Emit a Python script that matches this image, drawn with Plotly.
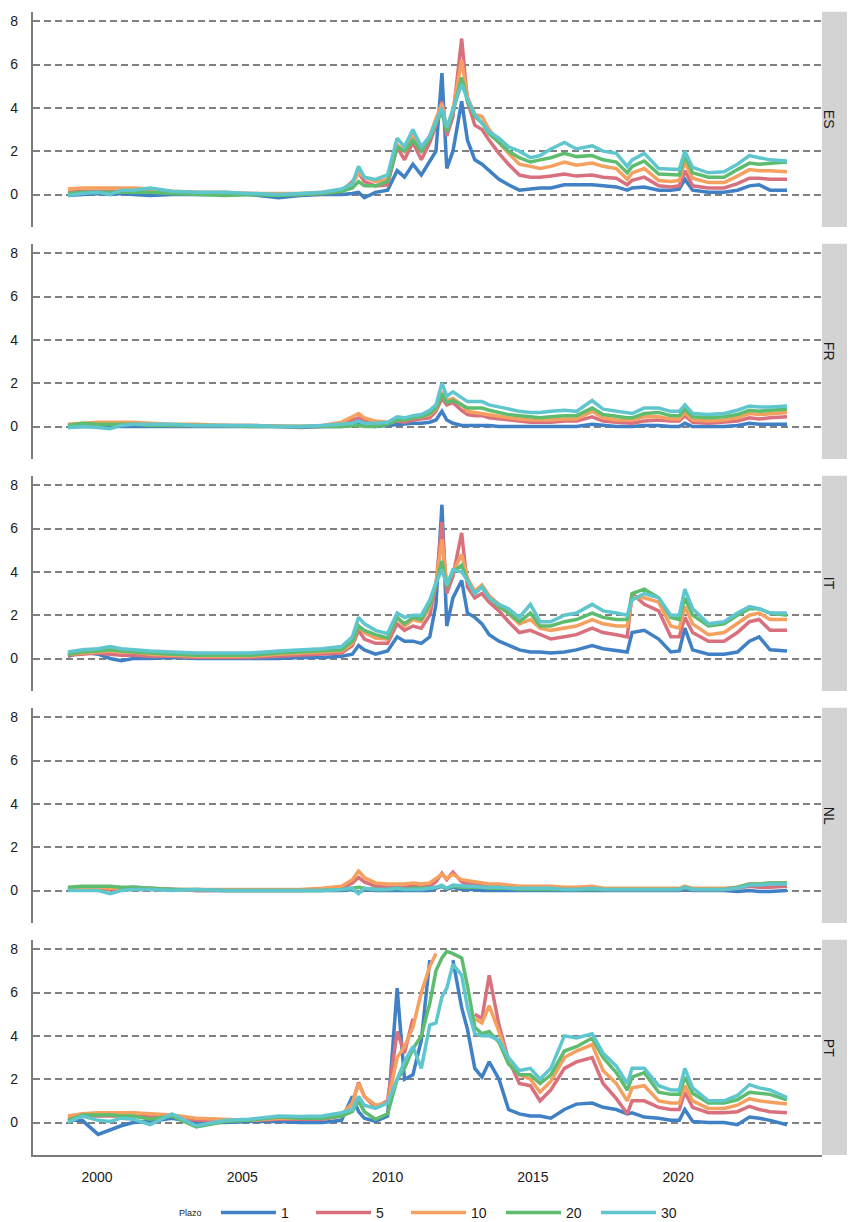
import plotly.graph_objects as go
from plotly.subplots import make_subplots

# Fechas comunes (muestreo aproximado de las series diarias)
dates = [
    "1999-01-01", "1999-07-01", "2000-01-15", "2000-06-15", "2000-11-01",
    "2001-04-01", "2001-11-01", "2002-08-01", "2003-06-01", "2004-06-01",
    "2005-04-01", "2006-04-01", "2007-01-01", "2007-10-01", "2008-06-01",
    "2008-10-15", "2009-01-01", "2009-03-15", "2009-08-01", "2010-01-01",
    "2010-05-01", "2010-08-01", "2010-11-15", "2011-03-01", "2011-06-15",
    "2011-09-01", "2011-11-15", "2012-01-15", "2012-04-01", "2012-07-20",
    "2012-10-01", "2013-01-01", "2013-04-01", "2013-07-01", "2013-11-01",
    "2014-03-01", "2014-07-15", "2014-12-01", "2015-04-01", "2015-08-15",
    "2016-02-01", "2016-07-01", "2017-01-15", "2017-06-01", "2017-11-15",
    "2018-04-01", "2018-06-01", "2018-11-01", "2019-05-01", "2019-10-01",
    "2020-01-15", "2020-03-25", "2020-07-01", "2021-01-15", "2021-08-01",
    "2022-01-15", "2022-06-15", "2022-10-15", "2023-03-01", "2023-09-30",
]

countries = ["ES", "FR", "IT", "NL", "PT"]
plazos = ["1", "5", "10", "20", "30"]

# ES
es_1 = [-0.05, 0.0, 0.05, 0.0, 0.05, 0.0, -0.05, 0.0, 0.0, 0.0,
        0.0, -0.15, -0.05, 0.0, 0.0, 0.05, 0.1, -0.15, 0.1, 0.2,
        1.1, 0.8, 1.4, 0.9, 1.5, 2.0, 5.6, 1.2, 2.0, 4.3,
        2.5, 1.6, 1.4, 1.1, 0.7, 0.45, 0.2, 0.25, 0.3, 0.3,
        0.45, 0.45, 0.45, 0.4, 0.35, 0.2, 0.3, 0.35, 0.2, 0.2,
        0.25, 0.7, 0.2, 0.1, 0.1, 0.2, 0.4, 0.45, 0.2, 0.2]
es_5 = [0.1, 0.15, 0.15, 0.15, 0.15, 0.15, 0.1, 0.1, 0.05, 0.05,
        0.05, 0.0, 0.0, 0.05, 0.15, 0.6, 1.0, 0.6, 0.4, 0.45,
        2.2, 1.6, 2.4, 1.6, 2.4, 3.2, 4.3, 2.7, 3.6, 7.2,
        4.3, 3.2, 3.0, 2.5, 1.9, 1.4, 0.9, 0.8, 0.8, 0.85,
        0.95, 0.85, 0.9, 0.8, 0.75, 0.45, 0.65, 0.8, 0.4, 0.35,
        0.4, 1.1, 0.4, 0.3, 0.3, 0.5, 0.75, 0.75, 0.7, 0.7]
es_10 = [0.25, 0.3, 0.3, 0.3, 0.3, 0.3, 0.25, 0.15, 0.1, 0.1,
         0.05, 0.05, 0.05, 0.1, 0.2, 0.5, 1.0, 0.8, 0.6, 0.7,
         2.3, 2.0, 2.8, 2.0, 2.7, 3.5, 4.2, 3.0, 3.9, 6.2,
         4.5, 3.7, 3.6, 3.0, 2.4, 1.9, 1.4, 1.3, 1.2, 1.3,
         1.5, 1.35, 1.45, 1.3, 1.2, 0.7, 1.0, 1.2, 0.65, 0.6,
         0.65, 1.5, 0.75, 0.55, 0.55, 0.85, 1.15, 1.1, 1.1, 1.05]
es_20 = [0.05, 0.1, 0.1, 0.1, 0.1, 0.1, 0.1, 0.05, 0.0, -0.05,
         0.0, -0.05, 0.0, 0.05, 0.15, 0.3, 0.6, 0.4, 0.4, 0.6,
         2.2, 2.0, 2.5, 2.0, 2.6, 3.3, 3.8, 2.9, 3.8, 5.4,
         4.3, 3.6, 3.3, 2.8, 2.4, 2.0, 1.7, 1.5, 1.6, 1.7,
         1.9, 1.75, 1.8, 1.6, 1.5, 1.0, 1.3, 1.55, 0.95, 0.9,
         0.9, 1.8, 1.0, 0.8, 0.8, 1.15, 1.45, 1.4, 1.45, 1.5]
es_30 = [-0.05, 0.05, 0.1, 0.0, 0.2, 0.2, 0.3, 0.15, 0.1, 0.1,
         0.05, 0.0, 0.05, 0.1, 0.25, 0.5, 1.3, 0.8, 0.7, 0.9,
         2.6, 2.2, 3.0, 2.2, 2.7, 3.4, 4.0, 3.1, 3.9, 5.1,
         4.4, 3.7, 3.3, 2.9, 2.6, 2.2, 2.0, 1.7, 1.8, 2.1,
         2.4, 2.1, 2.25, 2.0, 1.9, 1.3, 1.6, 1.9, 1.2, 1.15,
         1.15, 2.0, 1.25, 1.0, 1.05, 1.4, 1.8, 1.7, 1.6, 1.55]

# FR
fr_1 = [-0.05, 0.0, 0.0, 0.0, 0.0, 0.0, 0.0, 0.0, 0.0, 0.0,
        0.0, 0.0, -0.05, 0.0, 0.0, 0.05, 0.15, 0.05, 0.0, 0.05,
        0.1, 0.1, 0.15, 0.15, 0.2, 0.3, 0.7, 0.3, 0.15, 0.05,
        0.05, 0.05, 0.05, 0.05, 0.0, 0.0, 0.0, 0.0, 0.0, 0.0,
        0.0, 0.0, 0.1, 0.05, 0.0, 0.0, 0.0, 0.05, 0.05, 0.0,
        0.0, 0.15, 0.0, 0.0, 0.0, 0.05, 0.15, 0.1, 0.1, 0.1]
fr_5 = [0.05, 0.1, 0.1, 0.1, 0.1, 0.1, 0.1, 0.05, 0.05, 0.05,
        0.05, 0.0, 0.0, 0.0, 0.1, 0.3, 0.4, 0.25, 0.2, 0.15,
        0.25, 0.2, 0.3, 0.35, 0.4, 0.7, 1.3, 1.0, 1.1, 0.75,
        0.55, 0.5, 0.5, 0.4, 0.35, 0.3, 0.25, 0.2, 0.2, 0.2,
        0.25, 0.25, 0.45, 0.25, 0.2, 0.15, 0.15, 0.25, 0.3, 0.25,
        0.25, 0.5, 0.2, 0.15, 0.2, 0.25, 0.4, 0.35, 0.4, 0.45]
fr_10 = [0.1, 0.15, 0.2, 0.2, 0.2, 0.2, 0.15, 0.1, 0.1, 0.05,
         0.05, 0.0, 0.0, 0.05, 0.2, 0.45, 0.6, 0.4, 0.25, 0.2,
         0.3, 0.3, 0.4, 0.45, 0.55, 0.8, 1.6, 1.2, 1.3, 1.0,
         0.7, 0.65, 0.6, 0.55, 0.45, 0.4, 0.35, 0.3, 0.3, 0.3,
         0.35, 0.35, 0.7, 0.4, 0.3, 0.3, 0.3, 0.45, 0.45, 0.35,
         0.35, 0.65, 0.3, 0.25, 0.3, 0.4, 0.6, 0.55, 0.6, 0.65]
fr_20 = [0.05, 0.15, 0.1, 0.1, 0.1, 0.1, 0.05, 0.05, 0.05, 0.05,
         0.0, 0.0, 0.0, 0.0, 0.0, 0.05, 0.05, 0.0, 0.0, 0.1,
         0.3, 0.3, 0.4, 0.45, 0.6, 0.85, 1.5, 1.1, 1.2, 1.0,
         0.85, 0.85, 0.85, 0.75, 0.65, 0.55, 0.5, 0.45, 0.4, 0.45,
         0.5, 0.5, 0.85, 0.55, 0.45, 0.4, 0.4, 0.6, 0.65, 0.5,
         0.5, 0.8, 0.45, 0.4, 0.45, 0.55, 0.75, 0.7, 0.75, 0.8]
fr_30 = [-0.05, 0.0, -0.05, -0.1, 0.05, 0.1, 0.1, 0.1, 0.05, 0.05,
         0.05, 0.0, 0.0, 0.05, 0.1, 0.15, 0.25, 0.15, 0.15, 0.2,
         0.45, 0.4, 0.5, 0.55, 0.75, 1.0, 2.0, 1.4, 1.6, 1.3,
         1.15, 1.15, 1.15, 1.0, 0.9, 0.8, 0.7, 0.65, 0.65, 0.7,
         0.75, 0.7, 1.2, 0.8, 0.7, 0.6, 0.6, 0.85, 0.85, 0.7,
         0.7, 1.0, 0.6, 0.55, 0.6, 0.75, 0.95, 0.9, 0.9, 0.95]

# IT
it_1 = [0.1, 0.3, 0.2, 0.0, -0.1, 0.0, 0.0, 0.05, 0.0, 0.0,
        0.0, 0.0, 0.05, 0.05, 0.1, 0.2, 0.6, 0.4, 0.2, 0.35,
        1.0, 0.8, 0.8, 0.7, 1.0, 2.5, 7.1, 1.5, 2.8, 3.6,
        2.1, 1.9, 1.6, 1.1, 0.8, 0.6, 0.4, 0.3, 0.3, 0.25,
        0.3, 0.4, 0.6, 0.45, 0.35, 0.3, 1.2, 1.3, 0.9, 0.3,
        0.35, 1.4, 0.4, 0.2, 0.2, 0.3, 0.8, 1.0, 0.4, 0.35]
it_5 = [0.15, 0.2, 0.25, 0.2, 0.15, 0.15, 0.1, 0.1, 0.05, 0.05,
        0.05, 0.1, 0.15, 0.2, 0.25, 0.6, 1.3, 0.9, 0.7, 0.7,
        1.6, 1.3, 1.5, 1.4, 2.0, 3.4, 6.3, 3.0, 3.8, 5.8,
        3.3, 2.8, 3.0, 2.6, 2.2, 1.7, 1.2, 1.3, 1.1, 0.9,
        1.0, 1.1, 1.4, 1.2, 1.1, 1.0, 3.0, 2.5, 2.2, 1.0,
        1.0, 1.9, 1.2, 0.8, 0.8, 1.2, 1.7, 1.8, 1.3, 1.3]
it_10 = [0.2, 0.25, 0.3, 0.35, 0.3, 0.3, 0.2, 0.15, 0.1, 0.1,
         0.1, 0.2, 0.25, 0.3, 0.35, 0.7, 1.5, 1.2, 0.95, 0.9,
         1.9, 1.5, 1.8, 1.7, 2.4, 3.5, 5.5, 3.4, 4.0, 4.8,
         3.7, 3.1, 3.4, 2.9, 2.5, 2.1, 1.6, 1.8, 1.4, 1.3,
         1.4, 1.5, 1.8, 1.6, 1.5, 1.5, 2.8, 2.8, 2.6, 1.5,
         1.4, 2.4, 1.6, 1.1, 1.2, 1.6, 2.0, 2.1, 1.8, 1.8]
it_20 = [0.2, 0.3, 0.35, 0.4, 0.35, 0.3, 0.25, 0.2, 0.15, 0.15,
         0.15, 0.25, 0.3, 0.35, 0.4, 0.8, 1.5, 1.3, 1.1, 0.95,
         1.9, 1.6, 1.9, 1.8, 2.5, 3.4, 4.5, 3.3, 4.0, 4.3,
         3.6, 3.0, 3.3, 2.8, 2.4, 2.1, 1.7, 2.1, 1.5, 1.5,
         1.7, 1.8, 2.1, 1.9, 1.8, 1.8, 3.0, 3.2, 2.8, 1.9,
         1.8, 2.8, 2.0, 1.5, 1.6, 2.0, 2.3, 2.3, 2.1, 2.0]
it_30 = [0.3, 0.4, 0.45, 0.55, 0.45, 0.4, 0.35, 0.3, 0.25, 0.25,
         0.25, 0.35, 0.4, 0.45, 0.55, 1.0, 1.9, 1.6, 1.3, 1.15,
         2.1, 1.9, 2.0, 2.0, 2.7, 3.5, 4.1, 3.4, 4.1, 4.0,
         3.6, 3.0, 3.3, 2.8, 2.5, 2.3, 1.9, 2.5, 1.7, 1.7,
         2.0, 2.1, 2.5, 2.2, 2.1, 2.0, 2.7, 3.0, 2.8, 2.0,
         2.0, 3.2, 2.3, 1.6, 1.7, 2.1, 2.4, 2.3, 2.1, 2.1]

# NL
nl_1 = [0.05, 0.1, 0.1, 0.05, 0.1, 0.15, 0.1, 0.05, 0.0, 0.0,
        0.0, 0.0, 0.0, 0.0, 0.0, 0.05, -0.1, 0.05, 0.0, 0.0,
        0.0, 0.0, 0.0, 0.0, 0.0, 0.1, 0.2, 0.05, 0.15, 0.05,
        0.05, 0.05, 0.0, 0.0, 0.0, 0.0, 0.0, 0.0, 0.0, 0.0,
        0.0, 0.0, 0.0, 0.0, 0.0, 0.0, 0.0, 0.0, 0.0, 0.0,
        0.0, 0.05, 0.0, 0.0, 0.0, -0.05, 0.0, -0.05, -0.05, 0.0]
nl_5 = [0.05, 0.1, 0.05, 0.05, 0.05, 0.05, 0.05, 0.05, 0.0, 0.0,
        0.0, 0.0, 0.0, 0.05, 0.1, 0.35, 0.6, 0.4, 0.2, 0.15,
        0.15, 0.15, 0.2, 0.15, 0.2, 0.4, 0.8, 0.5, 0.85, 0.4,
        0.3, 0.3, 0.25, 0.2, 0.2, 0.15, 0.1, 0.1, 0.1, 0.1,
        0.1, 0.1, 0.1, 0.05, 0.05, 0.05, 0.05, 0.05, 0.05, 0.05,
        0.05, 0.15, 0.05, 0.05, 0.05, 0.1, 0.2, 0.15, 0.15, 0.2]
nl_10 = [0.1, 0.15, 0.15, 0.1, 0.1, 0.1, 0.1, 0.05, 0.05, 0.05,
         0.05, 0.05, 0.05, 0.1, 0.2, 0.5, 0.9, 0.6, 0.35, 0.3,
         0.3, 0.3, 0.35, 0.3, 0.35, 0.55, 0.75, 0.55, 0.75, 0.5,
         0.45, 0.4, 0.35, 0.3, 0.3, 0.25, 0.2, 0.2, 0.2, 0.2,
         0.15, 0.15, 0.2, 0.1, 0.1, 0.1, 0.1, 0.1, 0.1, 0.1,
         0.1, 0.2, 0.1, 0.1, 0.1, 0.15, 0.3, 0.3, 0.35, 0.35]
nl_20 = [0.15, 0.2, 0.2, 0.2, 0.15, 0.15, 0.1, 0.05, 0.05, 0.0,
         0.0, 0.0, 0.0, 0.0, 0.05, 0.1, 0.15, 0.1, 0.05, 0.05,
         0.1, 0.05, 0.1, 0.1, 0.1, 0.15, 0.2, 0.1, 0.2, 0.15,
         0.15, 0.15, 0.15, 0.1, 0.1, 0.1, 0.05, 0.05, 0.05, 0.05,
         0.05, 0.05, 0.05, 0.05, 0.05, 0.05, 0.05, 0.05, 0.05, 0.05,
         0.05, 0.15, 0.05, 0.05, 0.05, 0.15, 0.3, 0.3, 0.35, 0.35]
nl_30 = [0.0, 0.0, 0.0, -0.15, 0.0, 0.05, 0.05, 0.0, 0.05, 0.0,
         0.0, 0.0, 0.0, 0.0, 0.05, 0.1, -0.15, 0.1, 0.05, 0.05,
         0.1, 0.05, 0.05, 0.05, 0.1, 0.15, 0.25, 0.1, 0.25, 0.2,
         0.2, 0.2, 0.15, 0.15, 0.15, 0.1, 0.1, 0.1, 0.1, 0.1,
         0.05, 0.05, 0.1, 0.05, 0.05, 0.05, 0.05, 0.05, 0.05, 0.05,
         0.05, 0.15, 0.05, 0.05, 0.05, 0.1, 0.25, 0.25, 0.3, 0.3]

# PT
pt_1 = [0.1, 0.1, -0.55, -0.35, -0.15, 0.0, 0.05, 0.2, 0.0, 0.0,
        0.05, 0.05, 0.0, 0.0, 0.1, 1.2, 0.5, 0.2, 0.05, 0.3,
        6.2, 2.0, 2.2, 3.8, 7.5, 9.5, 8.5, 10.0, 7.5, 5.3,
        4.3, 2.5, 2.1, 2.8, 2.0, 0.6, 0.4, 0.3, 0.3, 0.2,
        0.6, 0.85, 0.9, 0.7, 0.6, 0.4, 0.45, 0.25, 0.2, 0.1,
        0.1, 0.6, 0.05, 0.0, 0.0, -0.1, 0.25, 0.2, 0.1, -0.1]
pt_5 = [0.2, 0.3, 0.3, 0.3, 0.3, 0.3, 0.25, 0.3, 0.1, 0.1,
        0.1, 0.15, 0.15, 0.15, 0.3, 0.9, 1.85, 1.2, 0.7, 1.0,
        4.2, 3.2, 4.8, 8.5, 10.5, 12.0, 13.0, 16.0, 12.0, 9.0,
        8.5, 5.0, 4.8, 6.8, 4.5, 2.9, 1.8, 1.7, 1.0, 1.5,
        2.5, 2.8, 3.0, 1.8, 1.1, 0.4, 1.0, 1.0, 0.7, 0.6,
        0.6, 1.4, 0.7, 0.45, 0.45, 0.5, 0.75, 0.6, 0.5, 0.45]
pt_10 = [0.3, 0.4, 0.45, 0.45, 0.45, 0.45, 0.4, 0.35, 0.2, 0.15,
         0.1, 0.2, 0.2, 0.25, 0.35, 0.9, 1.8, 1.2, 0.8, 0.9,
         3.0, 3.5, 4.4, 6.0, 7.2, 7.8, 9.0, 10.5, 9.5, 8.5,
         8.2, 4.8, 4.6, 5.4, 4.2, 2.8, 2.2, 2.0, 1.4, 1.9,
         3.0, 3.3, 3.6, 2.4, 1.8, 1.0, 1.6, 1.7, 1.0, 0.9,
         0.9, 1.7, 1.0, 0.65, 0.65, 0.8, 1.1, 1.0, 0.95, 0.85]
pt_20 = [0.1, 0.35, 0.35, 0.35, 0.3, 0.3, 0.15, 0.3, -0.2, 0.05,
         0.1, 0.25, 0.2, 0.2, 0.3, 0.5, 1.0, 0.5, 0.15, 0.4,
         2.0, 2.5, 3.4, 4.0, 5.5, 7.0, 7.6, 7.9, 7.8, 7.6,
         6.3, 4.4, 4.1, 4.2, 3.7, 2.7, 2.2, 2.2, 1.8, 2.2,
         3.3, 3.5, 3.9, 3.0, 2.3, 1.5, 2.1, 2.3, 1.4, 1.3,
         1.3, 2.1, 1.35, 0.9, 0.9, 1.05, 1.4, 1.35, 1.3, 1.05]
pt_30 = [0.0, 0.3, 0.1, 0.05, 0.2, 0.15, -0.1, 0.4, -0.15, 0.1,
         0.15, 0.3, 0.28, 0.3, 0.45, 0.6, 1.2, 0.8, 0.65, 0.9,
         2.0, 2.8, 3.5, 2.5, 4.5, 4.6, 5.8, 6.2, 7.3, 6.8,
         5.3, 4.1, 4.0, 4.0, 3.8, 3.0, 2.4, 2.5, 2.0, 2.5,
         4.0, 3.9, 4.1, 3.2, 2.6, 1.8, 2.5, 2.5, 1.7, 1.5,
         1.5, 2.5, 1.6, 1.0, 1.0, 1.25, 1.75, 1.6, 1.5, 1.15]

series = {
    "ES": [es_1, es_5, es_10, es_20, es_30],
    "FR": [fr_1, fr_5, fr_10, fr_20, fr_30],
    "IT": [it_1, it_5, it_10, it_20, it_30],
    "NL": [nl_1, nl_5, nl_10, nl_20, nl_30],
    "PT": [pt_1, pt_5, pt_10, pt_20, pt_30],
}

colors = ["#4080C4", "#D9707D", "#F5A05F", "#5EBC6E", "#60C6CE"]
font_family = "Liberation Sans, Arial, sans-serif"
y_max = 8  # valores fuera del limite se descartan

W, H = 855, 1222
OFF = 8  # margen del body de la pagina
fig = make_subplots(rows=5, cols=1, shared_xaxes=True)

for r, c in enumerate(countries, start=1):
    for i, p in enumerate(plazos):
        yy = [v if v <= y_max else None for v in series[c][i]]
        fig.add_trace(go.Scatter(
            x=dates, y=yy,
            mode="lines",
            name=p,
            legendgroup=p,
            showlegend=(r == 1),
            line=dict(color=colors[i], width=3.5),
            connectgaps=False,
        ), row=r, col=1)

# Panel geometry (pixels in the screenshot)
x0_px, x1_px = 33 - OFF, 822 - OFF
for k in range(5):
    top = 11.7 + 232 * k - OFF
    bot = 227 + 232 * k - OFF
    yname = "yaxis" if k == 0 else f"yaxis{k+1}"
    xname = "xaxis" if k == 0 else f"xaxis{k+1}"
    fig.layout[yname].update(
        domain=[1 - bot / H, 1 - top / H],
        range=[-1.5, 8.44],
        tickvals=[0, 2, 4, 6, 8],
        showgrid=True, gridcolor="#808080", gridwidth=1.5, griddash="7px,4px",
        zeroline=False,
        showline=True, linecolor="#7a7a7a", linewidth=2.2,
        ticks="", ticklabelstandoff=10,
        tickfont=dict(size=14, color="#1a1a1a", family=font_family),
    )
    fig.layout[xname].update(
        domain=[x0_px / W, x1_px / W],
        range=["1997-10-19", "2024-12-13"],
        tickvals=["2000-01-01", "2005-01-01", "2010-01-01", "2015-01-01", "2020-01-01"],
        ticktext=["2000", "2005", "2010", "2015", "2020"],
        showgrid=False, zeroline=False,
        showline=(k == 4), linecolor="#7a7a7a", linewidth=2.2,
        showticklabels=(k == 4), ticks="", ticklabelstandoff=8,
        tickfont=dict(size=14, color="#1a1a1a", family=font_family),
    )
    yref = "y" if k == 0 else f"y{k+1}"
    # strip gris con la etiqueta del pais
    fig.add_shape(type="rect", xref="paper", yref=f"{yref} domain",
                  x0=x1_px / W, x1=1, y0=0, y1=1,
                  fillcolor="#d3d3d3", line=dict(width=0), layer="below")
    fig.add_annotation(xref="paper", yref=f"{yref} domain",
                       x=(x1_px + 16.5) / W, y=0.5, text=countries[k],
                       textangle=90, showarrow=False,
                       font=dict(size=14, color="#1a1a1a", family=font_family))

# titulo de la leyenda, centrado con los elementos
fig.add_annotation(xref="paper", yref="paper",
                   x=(190 - OFF) / W, y=1 - (1213 - OFF) / H,
                   text="Plazo", showarrow=False, xanchor="center", yanchor="middle",
                   font=dict(size=9, color="#1a1a1a", family=font_family))

fig.update_layout(
    width=W, height=H,
    margin=dict(l=0, r=0, t=0, b=0),
    paper_bgcolor="white", plot_bgcolor="white",
    font=dict(family=font_family),
    legend=dict(
        orientation="h",
        x=(216 - OFF) / W, xanchor="left",
        y=1 - (1213 - OFF) / H, yanchor="middle",
        font=dict(size=14, color="#1a1a1a"),
        entrywidth=25,
        itemwidth=55,
    ),
)

fig.write_html("out.html")
